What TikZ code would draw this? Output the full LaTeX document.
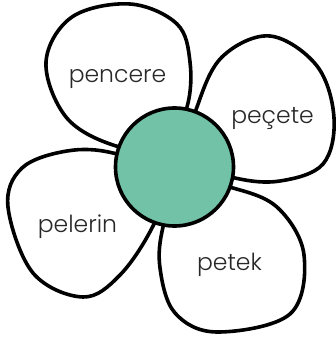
\documentclass[tikz,border=0pt]{standalone}
\usepackage{fontspec}
\setmainfont{Poppins}[UprightFont=* Light]
\usepackage{tikz}
\definecolor{centergreen}{RGB}{114,194,168}
\definecolor{wordgray}{RGB}{40,40,40}

\begin{document}
\begin{tikzpicture}[x=1pt, y=-1pt, line width=3.6pt,
		petal/.style={draw, fill=white, line join=round},
		word/.style={font=\fontsize{23.5}{23.5}\selectfont, text=wordgray, anchor=base}]
		\useasboundingbox (0,0) rectangle (336,339);
		% petals, tips hidden under the centre
		\draw[petal] plot[smooth cycle, tension=0.6] coordinates {(165,150) (113,145) (66,117) (46,62) (72,17) (130,4) (177,24) (190,62) (187,107)};
		\draw[petal] plot[smooth cycle, tension=0.6] coordinates {(185,160) (197,107) (222,57) (270,36) (317,66) (334,118) (323,164) (280,181) (235,178)};
		\draw[petal] plot[smooth cycle, tension=0.6] coordinates {(170,175) (153,226) (120,275) (83,297) (33,273) (8,207) (22,168) (67,151) (113,153)};
		\draw[petal] plot[smooth cycle, tension=0.6] coordinates {(180,180) (233,188) (278,208) (304,255) (290,314) (217,332) (175,313) (160,268) (163,227)};
		\node[circle, draw, fill=centergreen, minimum size=118pt] (heart) at (174.5,167) {};
		\node[word] (pencere) at (117.5,83) {pencere};
		\node[word] (pecete) at (272.5,124) {peçete};
		\node[word] (pelerin) at (77.5,232) {pelerin};
		\node[word] (petek) at (229.5,270) {petek};
	\end{tikzpicture}
\end{document}
